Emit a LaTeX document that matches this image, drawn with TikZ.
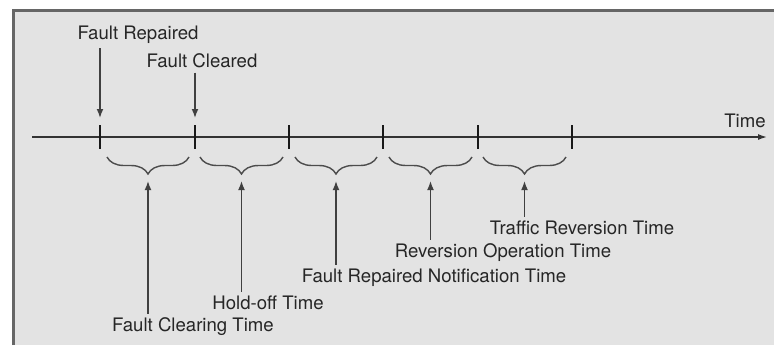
\documentclass[tikz,border=0pt]{standalone}
\usepackage{fontspec}
\setmainfont{TeX Gyre Heros}
\usetikzlibrary{arrows.meta,decorations.pathreplacing}

\begin{document}
\begin{tikzpicture}[x=.5pt,y=-.5pt,
  lbl/.style={font=\fontsize{9.3}{11}\selectfont,inner sep=2pt,text=black!85},
  tickmark/.style={line width=1.45pt,black!90},
  brc/.style={decorate,decoration={brace,mirror,amplitude=8.5pt},line width=.7pt,black!70},
  ptr/.style={-{Latex[length=4.5pt,width=3.4pt]},line width=.65pt,black!75}]
\useasboundingbox(0,0)rectangle(774,345);
\fill[white](0,0)rectangle(774,345);\fill[black!11](13,10)rectangle(774,345);
\draw[line width=1.5pt,black!60](13,345)--(13,10)--(774,10);
% time axis
\coordinate(t0)at(32,137);\coordinate(tend)at(767,137);
\draw[-{Latex[length=4.5pt,width=3pt]},line width=.7pt,black!80](t0)--(tend);
\foreach \x[count=\i] in {100,195,289,383,478,572}{
  \coordinate(k\i)at(\x,137);\draw[tickmark](\x,125)--(\x,149);}
% braces under the intervals
\foreach \a/\b[count=\i] in {107/189,200/283,295/377,389/472,483/566}{
  \draw[brc](\a,157)--(\b,157);\coordinate(b\i)at({(\a+\b)/2},181);}
% events
\node[lbl](fr)at(138,35){Fault Repaired};
\node[lbl](fc)at(202,61){Fault Cleared};
\node[lbl](tm)at(745,121){Time};
\draw[ptr](fr.south -| k1)--([yshift=9.5pt]k1);
\draw[ptr](fc.south -| k2)--([yshift=9.5pt]k2);
% durations
\node[lbl](fct)at(193,327){Fault Clearing Time};
\node[lbl](hot)at(268,303){Hold-off Time};
\node[lbl](frnt)at(434,278){Fault Repaired Notification Time};
\node[lbl](rot)at(503,253){Reversion Operation Time};
\node[lbl](trt)at(582,228){Traffic Reversion Time};
\draw[ptr](b1 |- fct.north)--(b1);\draw[ptr](b2 |- hot.north)--(b2);
\draw[ptr](b3 |- frnt.north)--(b3);\draw[ptr](b4 |- rot.north)--(b4);
\draw[ptr](b5 |- trt.north)--(b5);
\end{tikzpicture}
\end{document}
